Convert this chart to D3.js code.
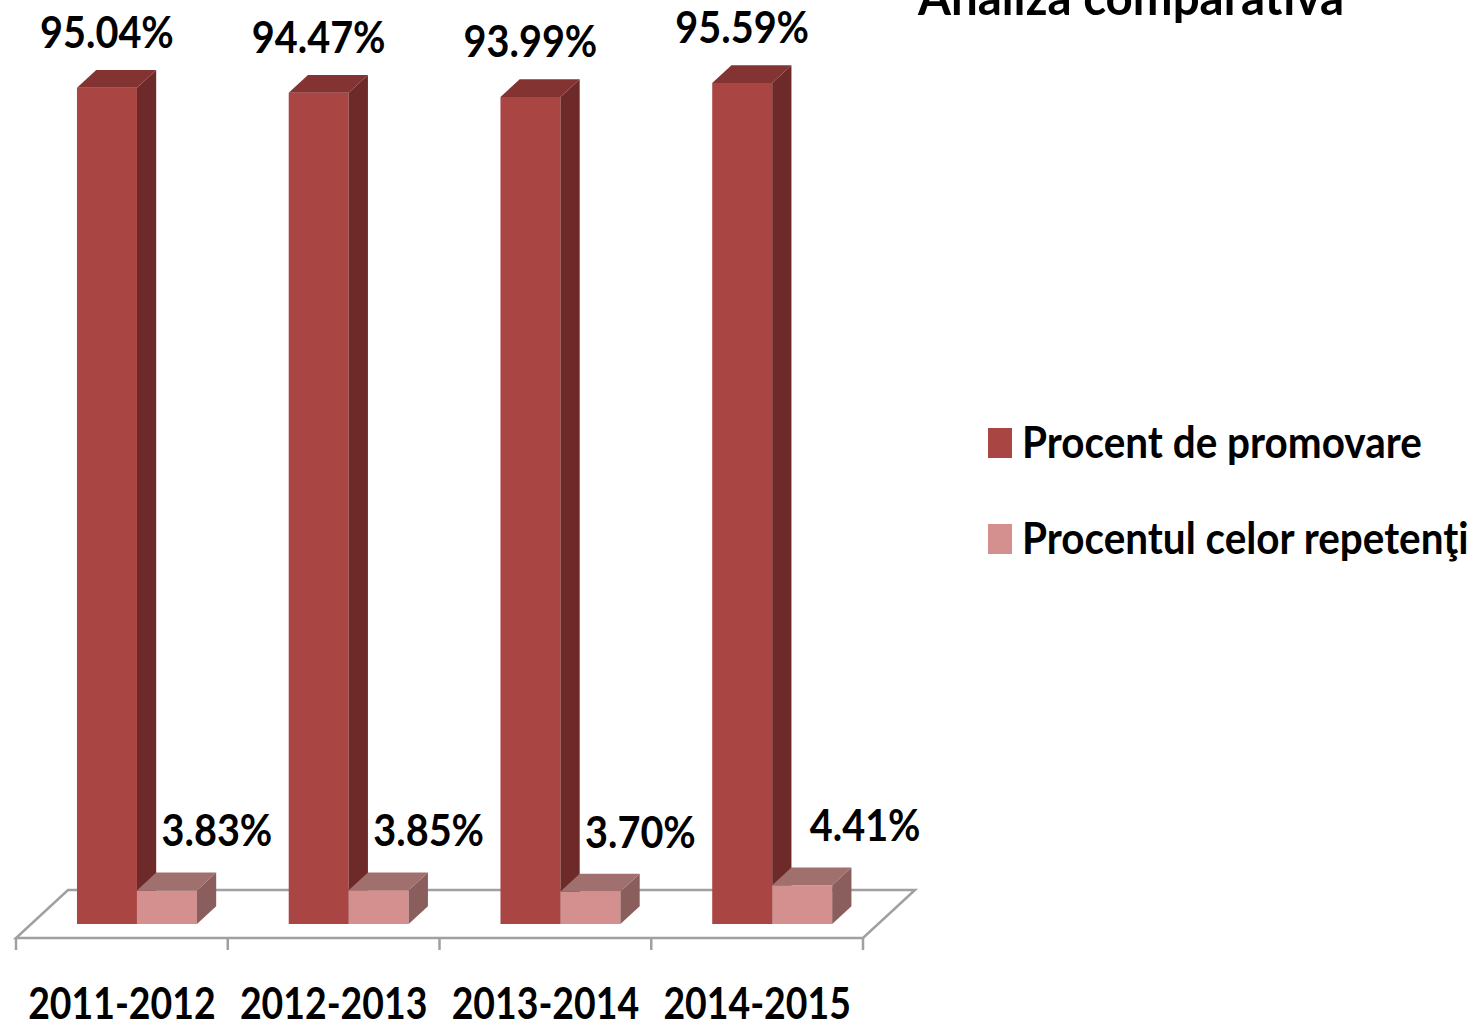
<!DOCTYPE html>
<html>
<head>
<meta charset="utf-8">
<title>Analiza comparativa</title>
<style>
  body { margin: 0; background: #fff; }
  text { font-family: Lato, "Open Sans", sans-serif; font-weight: bold; fill: #000; }
</style>
</head>
<body>
<script src="https://d3js.org/d3.v7.min.js"></script>
<script>
// data
var years = ["2011-2012", "2012-2013", "2013-2014", "2014-2015"];
var seriesNames = ["Procent de promovare", "Procentul celor repetenţi"];
var promovare = [95.04, 94.47, 93.99, 95.59];
var repetenti = [3.83, 3.85, 3.70, 4.41];
var title = "Analiza comparativa";

var W = 1477, H = 1026;
var svg = d3.select("body").append("svg")
    .attr("width", W).attr("height", H);

// floor geometry (front edge) and depth projection
var floorY = 938, depthX = 52, depthY = -48;
var z0 = 0.29, z1 = 0.66; // bar depth on the floor

var x = d3.scaleBand().domain(years).range([16, 863]);
var xs = d3.scaleBand().domain(seriesNames).range([0, x.bandwidth()]).paddingOuter(0.765);
var y = d3.scaleLinear().domain([0, 100]).range([floorY, floorY - 880]);

function P(px, py, z) { return [px + depthX * z, py + depthY * z]; }
function poly(pts) { return pts.map(function(p){ return p.join(","); }).join(" "); }

var colors = {
  "Procent de promovare": {front: "#a94543", top: "#833331", side: "#6e2a28"},
  "Procentul celor repetenţi": {front: "#d4908e", top: "#a0706e", side: "#8a5e5d"}
};

// floor
var x0 = x.range()[0], x1 = x.range()[1];
svg.append("polygon")
    .attr("points", poly([P(x0, floorY, 0), P(x1, floorY, 0), P(x1, floorY, 1), P(x0, floorY, 1)]))
    .attr("fill", "#fff").attr("stroke", "#a0a0a0").attr("stroke-width", 2.5);

// ticks
var tickXs = years.map(function(d){ return x(d); }).concat([x1]);
svg.selectAll(".tick").data(tickXs).enter().append("line")
    .attr("x1", function(d){ return d; }).attr("x2", function(d){ return d; })
    .attr("y1", floorY).attr("y2", floorY + 12)
    .attr("stroke", "#a0a0a0").attr("stroke-width", 2.5);

// bars
var rows = [];
years.forEach(function(yr, i) {
  rows.push({year: yr, s: seriesNames[0], v: promovare[i]});
  rows.push({year: yr, s: seriesNames[1], v: repetenti[i]});
});

var g = svg.selectAll(".bar").data(rows).enter().append("g").attr("class", "bar");
g.each(function(d) {
  var el = d3.select(this);
  var bx0 = x(d.year) + xs(d.s), bx1 = bx0 + xs.bandwidth();
  var yb = y(0), yt = y(d.v);
  var c = colors[d.s];
  // front
  el.append("polygon")
    .attr("points", poly([P(bx0, yb, z0), P(bx1, yb, z0), P(bx1, yt, z0), P(bx0, yt, z0)]))
    .attr("fill", c.front);
  // side
  el.append("polygon")
    .attr("points", poly([P(bx1, yb, z0), P(bx1, yb, z1), P(bx1, yt, z1), P(bx1, yt, z0)]))
    .attr("fill", c.side);
  // top
  el.append("polygon")
    .attr("points", poly([P(bx0, yt, z0), P(bx1, yt, z0), P(bx1, yt, z1), P(bx0, yt, z1)]))
    .attr("fill", c.top);
});

// value labels
svg.selectAll(".vlabel").data(rows).enter().append("text")
    .attr("class", "vlabel")
    .attr("text-anchor", "middle")
    .attr("font-size", 44)
    .attr("transform", function(d, i) {
      var bx = x(d.year) + xs(d.s) + xs.bandwidth() / 2;
      var p = P(bx, y(d.v), z0);
      var isRep = d.s === seriesNames[1];
      var lx = isRep ? p[0] + (i === rows.length - 1 ? 63 : 50) : p[0];
      var ly = isRep ? p[1] - 44 : p[1] - 40;
      return "translate(" + lx + "," + ly + ") scale(0.9,1)";
    })
    .text(function(d){ return d3.format(".2f")(d.v) + "%"; });

// category labels
svg.selectAll(".clabel").data(years).enter().append("text")
    .attr("class", "clabel")
    .attr("text-anchor", "middle")
    .attr("font-size", 44)
    .attr("transform", function(d){ return "translate(" + (x(d) + x.bandwidth() / 2) + ",1019) scale(0.85,1)"; })
    .text(function(d){ return d; });

// title (cut at top edge)
svg.append("text")
    .attr("font-size", 50)
    .attr("transform", "translate(918,15) scale(0.95,1)")
    .text(title);

// legend
var leg = svg.selectAll(".legend").data(seriesNames).enter().append("g")
    .attr("transform", function(d, i){ return "translate(988," + (428 + i * 96) + ")"; });
leg.append("rect").attr("width", 24).attr("height", 30)
    .attr("fill", function(d){ return colors[d].front; });
leg.append("text")
    .attr("font-size", 44)
    .attr("transform", "translate(34,30) scale(0.92,1)")
    .text(function(d){ return d; });
</script>
</body>
</html>
